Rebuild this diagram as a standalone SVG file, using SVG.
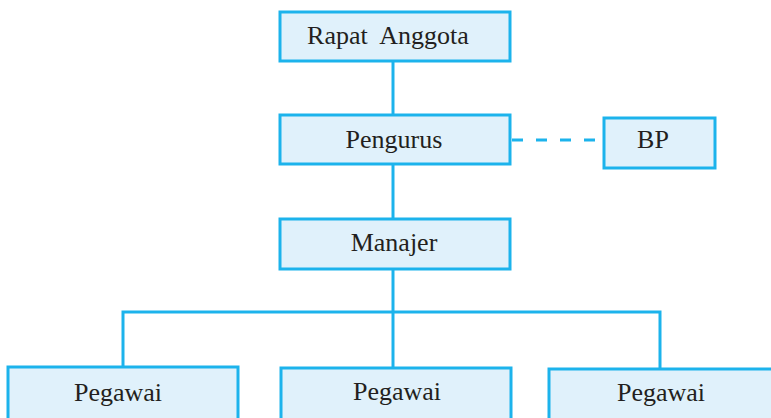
<svg xmlns="http://www.w3.org/2000/svg" width="771" height="418" viewBox="0 0 771 418">
<style>
.box{fill:#e0f1fb;stroke:#1cb3ec;stroke-width:3}
.line{fill:none;stroke:#1cb3ec;stroke-width:3}
.dash{fill:none;stroke:#1cb3ec;stroke-width:3;stroke-dasharray:11 13}
text{font-family:"Liberation Serif","DejaVu Serif",serif;font-size:26px;fill:#231f20;text-anchor:middle}
</style>
<rect width="771" height="418" fill="#ffffff"/>
<g id="connectors">
<line class="line" x1="393" y1="61" x2="393" y2="115"/>
<line class="line" x1="393" y1="164" x2="393" y2="219"/>
<line class="line" x1="393" y1="269" x2="393" y2="368"/>
<polyline class="line" points="123,368 123,312 660,312 660,369"/>
<line class="dash" x1="512" y1="140" x2="604" y2="140"/>
</g>
<g id="rapat"><rect class="box" x="280" y="12" width="230" height="49"/><text x="388" y="44">Rapat&#160; Anggota</text></g>
<g id="pengurus"><rect class="box" x="280" y="115" width="230" height="49"/><text x="394" y="148">Pengurus</text></g>
<g id="bp"><rect class="box" x="604" y="118" width="111" height="50"/><text x="653" y="148">BP</text></g>
<g id="manajer"><rect class="box" x="280" y="219" width="230" height="50"/><text x="394" y="251">Manajer</text></g>
<g id="pegawai1"><rect class="box" x="8" y="367" width="230" height="54"/><text x="118" y="401">Pegawai</text></g>
<g id="pegawai2"><rect class="box" x="281" y="368" width="230" height="54"/><text x="397" y="400">Pegawai</text></g>
<g id="pegawai3"><rect class="box" x="549" y="369" width="230" height="54"/><text x="661" y="401">Pegawai</text></g>
</svg>
